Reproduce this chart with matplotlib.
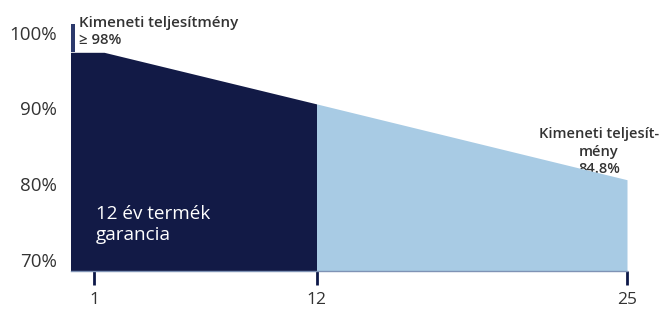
import numpy as np
import matplotlib
matplotlib.use('Agg')
import matplotlib.pyplot as plt

# values
years_dark = [0, 1.5, 12]
perf_dark = [97.4, 97.4, 90.6]
years_light = [12, 25]
perf_light = [90.6, 80.6]
start_peak = 101.1
x_ticks = [1, 12, 25]
y_ticks = [70, 80, 90, 100]
y_labels = ['70%', '80%', '90%', '100%']

navy = '#121a46'
light = '#a8cbe4'
txt = '#333333'

plt.rcParams['font.family'] = ['Open Sans', 'DejaVu Sans']

# the original is drawn by hand, years are not evenly spaced
knots_year = [0, 1, 12, 25]
knots_pos = [0, 23.5, 246, 556.5]
fwd = lambda x: np.interp(x, knots_year, knots_pos)
inv = lambda p: np.interp(p, knots_pos, knots_year)

fig = plt.figure(figsize=(6.64, 3.09), dpi=100)
ax = fig.add_axes([70.5 / 664, 38.3 / 309, 556.5 / 664, 250.7 / 309])
ax.set_xscale('function', functions=(fwd, inv))
ax.set_xlim(0, 25)
ax.set_ylim(68.6, 101.66)

base = ax.get_ylim()[0]
ax.fill_between(years_dark, base, perf_dark, color=navy, lw=0, zorder=3)
ax.fill_between(years_light, base, perf_light, color=light, lw=0, zorder=3)
ax.fill_between([0, 0.18], perf_dark[0], start_peak, color='#2c3a6c', lw=0, zorder=3)

for s in ['top', 'right', 'left']:
    ax.spines[s].set_visible(False)
ax.spines['bottom'].set_color('#7f93b5')
ax.spines['bottom'].set_linewidth(1)
ax.spines['bottom'].set_zorder(4)

ax.set_xticks(x_ticks)
ax.set_xticklabels([str(t) for t in x_ticks])
ax.tick_params(axis='x', direction='out', length=10, width=2, color='#0d1848',
               labelsize=12.5, labelcolor=txt, pad=5)
ax.set_yticks(y_ticks)
ax.set_yticklabels(y_labels)
ax.tick_params(axis='y', length=0, labelsize=13.5, labelcolor=txt, pad=10)

ax.text(0.36, 100.1, 'Kimeneti teljesítmény\n≥ 98%', fontsize=10.8,
        fontweight='semibold', color=txt, va='center', ha='left',
        linespacing=1.3, zorder=5)
ax.text(23.83, 84.3, 'Kimeneti teljesít-\nmény\n84.8%', fontsize=10.5,
        fontweight='semibold', color=txt, va='center', ha='center',
        linespacing=1.35, zorder=2)
ax.text(1.1, 74.7, '12 év termék\ngarancia', fontsize=13.6, color='white',
        va='center', ha='left', linespacing=1.2, zorder=5)

fig.savefig('out.png', dpi=100)
